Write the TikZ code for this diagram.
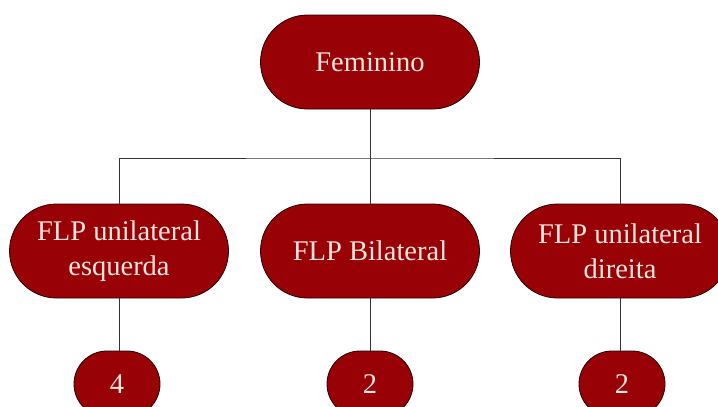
\documentclass[tikz,border=0pt]{standalone}
\usepackage{fontspec}
\setmainfont{Liberation Serif}
\usetikzlibrary{shapes.misc}
\definecolor{boxred}{RGB}{152,2,6}
\definecolor{boxtext}{RGB}{248,230,222}
\tikzset{
  pill/.style={rounded rectangle, draw=black!85!red, line width=0.8pt, fill=boxred,
    text=boxtext, font=\fontsize{28.5}{35}\selectfont, align=center,
    minimum width=219pt, minimum height=94pt, inner sep=0pt},
  countpill/.style={pill, minimum width=86pt, minimum height=66pt},
  link/.style={draw=black!80, line width=0.8pt}
}
\begin{document}
\begin{tikzpicture}[x=1pt,y=-1pt]
\useasboundingbox (0,0) rectangle (718,407);
\clip (0,0) rectangle (718,407);
% tree levels: root, three groups, their counts
\coordinate (bar) at (370,158);
\node[pill] (root) at (370,62) {Feminino};
\node[pill] (left) at (119,251) {FLP unilateral\\esquerda};
\node[pill] (mid) at (370,251) {FLP Bilateral};
\node[pill] (right) at (620,251) {FLP unilateral\\direita};
\node[countpill] (nl) at (117,384) {4};
\node[countpill] (nm) at (370,384) {2};
\node[countpill] (nr) at (622,384) {2};
% connectors
\draw[link] (root.south) -- (mid.north);
\draw[link] (left.north) |- (bar) -| (right.north);
\draw[link] (left.south) -- (left.south |- nl.north);
\draw[link] (mid.south) -- (nm.north);
\draw[link] (right.south) -- (right.south |- nr.north);
\end{tikzpicture}
\end{document}
